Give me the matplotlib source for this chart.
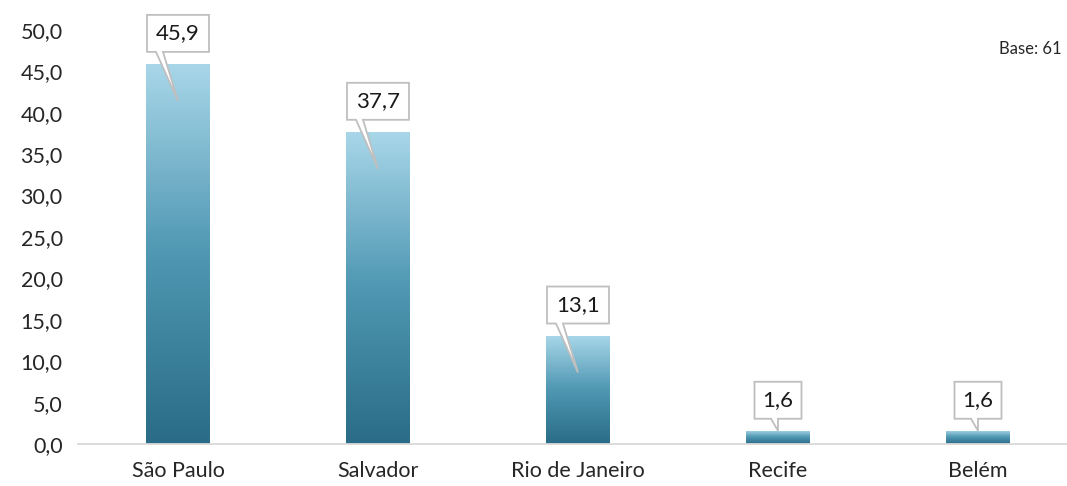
import numpy as np
import matplotlib.pyplot as plt
from matplotlib.patches import Polygon
from matplotlib.colors import LinearSegmentedColormap

cities = ['São Paulo', 'Salvador', 'Rio de Janeiro', 'Recife', 'Belém']
values = [45.9, 37.7, 13.1, 1.6, 1.6]
yticks = [0, 5, 10, 15, 20, 25, 30, 35, 40, 45, 50]

plt.rcParams['font.family'] = ['Lato', 'DejaVu Sans']

fig = plt.figure(figsize=(10.67, 4.86), dpi=100)
ax = fig.add_axes([0.0731, 0.0864, 0.9372, 0.852])
ax.set_xlim(-0.5, 4.5)
ax.set_ylim(0, 50)

x = np.arange(len(cities))
bars = ax.bar(x, values, width=0.32, color='none', edgecolor='none')

# vertical gradient fill, clipped to each bar
cmap = LinearSegmentedColormap.from_list('blu', ['#2a6c87', '#4f97b3', '#a9d7e9'])
grad = np.linspace(0, 1, 256).reshape(-1, 1)
for b in bars:
    x0, w, h = b.get_x(), b.get_width(), b.get_height()
    im = ax.imshow(grad, cmap=cmap, origin='lower', aspect='auto',
                   extent=[x0, x0 + w, 0, h], zorder=2)
    im.set_clip_path(b)
ax.set_xlim(-0.5, 4.5)
ax.set_ylim(0, 50)

ax.set_xticks(x)
ax.set_xticklabels(cities, fontsize=15.5, color='#262626')
ax.set_yticks(yticks)
ax.set_yticklabels([f'{v:.1f}'.replace('.', ',') for v in yticks], fontsize=15.5, color='#262626')
ax.tick_params(length=0)
ax.tick_params(axis='x', pad=12)
ax.tick_params(axis='y', pad=11)
for s in ['top', 'right', 'left']:
    ax.spines[s].set_visible(False)
ax.spines['bottom'].set_color('#d9d9d9')
ax.spines['bottom'].set_linewidth(1.3)

# callout labels (sizes in pixels)
inv = ax.transData.inverted()
for xi, v in zip(x, values):
    px, py = ax.transData.transform((xi, v))
    label = f'{v:.1f}'.replace('.', ',')
    bw = 62 if v >= 10 else 47
    bh = 37
    gap = 12
    tip_y = py - 37 if v > 10 else py
    cx = px
    by0 = py + gap
    tail_l = cx - 22 if v > 10 else cx - 7
    tail_r = cx - 15 if v > 10 else cx
    pts = [(cx - bw / 2, by0), (tail_l, by0), (px, tip_y), (tail_r, by0),
           (cx + bw / 2, by0), (cx + bw / 2, by0 + bh), (cx - bw / 2, by0 + bh)]
    pts = inv.transform(pts)
    ax.add_patch(Polygon(pts, closed=True, fc='white', ec='#bfbfbf', lw=1.3,
                         zorder=5, clip_on=False))
    tx, ty = inv.transform((cx, by0 + bh / 2))
    ax.text(tx, ty, label, ha='center', va='center', fontsize=16,
            color='#1a1a1a', zorder=6)

fig.text(0.995, 0.9, 'Base: 61', ha='right', va='center', fontsize=12, color='#262626')

fig.savefig('out.png', dpi=100)
